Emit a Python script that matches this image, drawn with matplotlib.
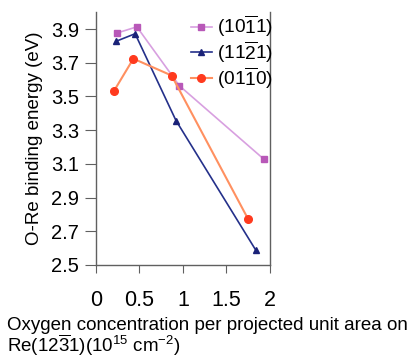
import numpy as np
import matplotlib.pyplot as plt

plt.rcParams['font.family'] = ['Liberation Sans', 'DejaVu Sans']
plt.rcParams['mathtext.fontset'] = 'custom'
plt.rcParams['mathtext.rm'] = 'Liberation Sans'
plt.rcParams['mathtext.it'] = 'Liberation Sans'

# data
x_1011 = [0.24, 0.47, 0.96, 1.93]
y_1011 = [3.876, 3.913, 3.563, 3.128]
x_1121 = [0.23, 0.45, 0.92, 1.84]
y_1121 = [3.827, 3.872, 3.357, 2.586]
x_0110 = [0.21, 0.43, 0.87, 1.75]
y_0110 = [3.535, 3.724, 3.624, 2.772]
labels = [r'$(10\overline{1}1)$', r'$(11\overline{2}1)$', r'$(01\overline{1}0)$']
xticks = [0, 0.5, 1, 1.5, 2]
yticks = [2.5, 2.7, 2.9, 3.1, 3.3, 3.5, 3.7, 3.9]

fig = plt.figure(figsize=(4.12, 3.58), dpi=100)
ax = fig.add_axes([0.233, 0.26, 0.422, 0.706])

ax.plot(x_1011, y_1011, color='#d8a0e0', lw=1.2, marker='s', ms=5,
        mfc='#b858b8', mec='#b858b8', label=labels[0])
ax.plot(x_1121, y_1121, color='#24308a', lw=1.2, marker='^', ms=5,
        mfc='#1a2278', mec='#1a2278', label=labels[1])
ax.plot(x_0110, y_0110, color='#ff9060', lw=1.5, marker='o', ms=5.5,
        mfc='#ff3a1e', mec='#ff3a1e', label=labels[2])

ax.set_xlim(0, 2)
ax.set_ylim(2.5, 4.0)
ax.set_xticks(xticks)
ax.set_xticklabels(['0', '0.5', '1', '1.5', '2'])
ax.set_yticks(yticks)
ax.set_yticklabels(['%.1f' % v for v in yticks])
ax.spines['top'].set_visible(False)
for s in ['left', 'right', 'bottom']:
    ax.spines[s].set_color('#606060')
    ax.spines[s].set_linewidth(1.0)
ax.tick_params(axis='x', direction='out', length=6, pad=12, labelsize=15.5,
               color='#606060')
ax.tick_params(axis='y', direction='out', length=8, pad=4, labelsize=14.5,
               color='#606060')
ax.set_ylabel('O-Re binding energy (eV)', fontsize=13.5, labelpad=6)

ax.legend(loc='upper left', bbox_to_anchor=(0.5, 1.025), frameon=False,
          fontsize=13.8, handlelength=1.1, handletextpad=0.3,
          labelspacing=0.0, borderaxespad=0)

fig.text(0.018, 0.092, 'Oxygen concentration per projected unit area on',
         fontsize=13.5, va='center')
fig.text(0.018, 0.035, r'Re$(12\overline{3}1)$(10$^{15}$ cm$^{-2}$)',
         fontsize=13.5, va='center')

fig.savefig('out.png', dpi=100)
